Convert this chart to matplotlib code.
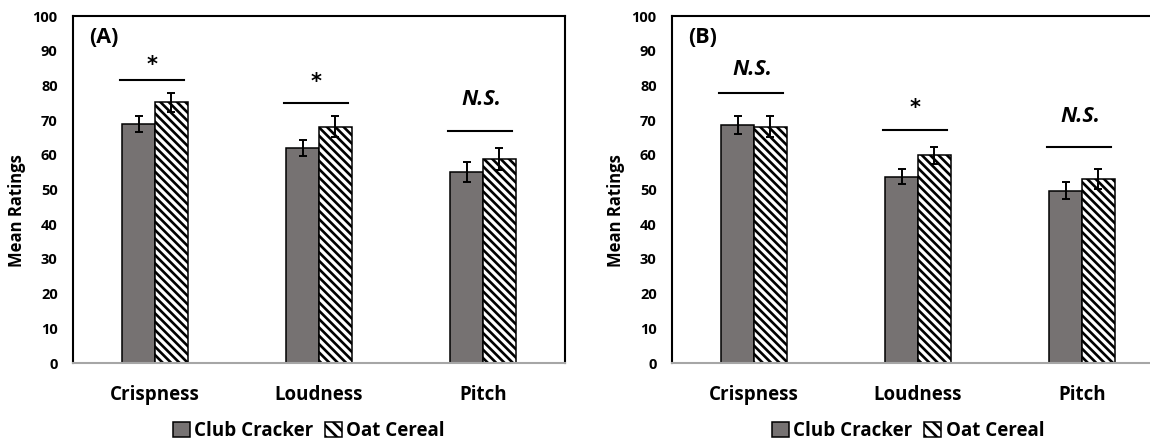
import numpy as np
import matplotlib.pyplot as plt
from matplotlib.patches import Patch

plt.rcParams['font.family'] = ['Open Sans', 'DejaVu Sans']
plt.rcParams['font.weight'] = 'bold'
plt.rcParams['hatch.linewidth'] = 1.9

# Dados
atributos = ['Crispness', 'Loudness', 'Pitch']
series = ['Club Cracker', 'Oat Cereal']

club_a = [69, 62, 55]
club_a_err = [2.3, 2.4, 2.8]
oat_a = [75.1, 68.1, 58.8]
oat_a_err = [2.8, 3.0, 3.3]
sig_a = ['*', '*', 'N.S.']
linha_a = [81.5, 75, 67]
texto_a = [86, 81, 76]

club_b = [68.6, 53.7, 49.7]
club_b_err = [2.5, 2.2, 2.5]
oat_b = [68.1, 59.8, 52.9]
oat_b_err = [3.0, 2.4, 2.9]
sig_b = ['N.S.', '*', 'N.S.']
linha_b = [77.9, 67.1, 62.2]
texto_b = [84.5, 73.5, 71]

cinza = '#767272'
largura = 0.2


def painel(ax, letra, club, club_err, oat, oat_err, sig, linha, texto):
    x = np.arange(len(atributos))
    ax.bar(x - largura / 2, club, largura, color=cinza, edgecolor='black',
           linewidth=1.1, zorder=2)
    ax.bar(x + largura / 2, oat, largura, color='white', edgecolor='black',
           hatch='\\\\\\\\', linewidth=1.1, zorder=2)
    ax.errorbar(x - largura / 2, club, yerr=club_err, fmt='none', ecolor='black',
                elinewidth=1.4, capsize=3, capthick=1.4, zorder=3)
    ax.errorbar(x + largura / 2, oat, yerr=oat_err, fmt='none', ecolor='black',
                elinewidth=1.4, capsize=3, capthick=1.4, zorder=3)

    # linhas e marcas de significancia
    for i in range(len(atributos)):
        ax.plot([x[i] - 0.215, x[i] + 0.175], [linha[i], linha[i]],
                color='black', linewidth=1.5)
        if sig[i] == '*':
            ax.text(x[i] - 0.015, texto[i], '*', ha='center', va='center',
                    fontsize=15, fontweight='bold', family='DejaVu Sans')
        else:
            ax.text(x[i] - 0.01, texto[i], sig[i], ha='center', va='center',
                    fontsize=15.5, fontweight='bold', fontstyle='italic')

    ax.set_xlim(-0.5, 2.5)
    ax.set_ylim(0, 100)
    ax.set_yticks(np.arange(0, 101, 10))
    ax.set_xticks(x)
    ax.set_xticklabels(atributos, fontsize=13.5, fontweight='bold')
    ax.tick_params(axis='y', length=0, pad=11, labelsize=10.5)
    ax.tick_params(axis='x', length=0, pad=16)
    ax.set_ylabel('Mean Ratings', fontsize=12, fontweight='bold')
    ax.yaxis.set_label_coords(-0.096, 0.44)
    for lado in ['top', 'left', 'right']:
        ax.spines[lado].set_linewidth(1.5)
        ax.spines[lado].set_color('black')
    ax.spines['bottom'].set_color('#a6a6a6')
    ax.spines['bottom'].set_linewidth(1.5)
    ax.text(0.033, 0.937, letra, transform=ax.transAxes, ha='left', va='center',
            fontsize=15.5, fontweight='bold')


fig = plt.figure(figsize=(11.5, 4.44), dpi=100)
ax1 = fig.add_axes([73 / 1150, 81 / 444, 492 / 1150, 347 / 444])
ax2 = fig.add_axes([672 / 1150, 81 / 444, 492 / 1150, 347 / 444])

painel(ax1, '(A)', club_a, club_a_err, oat_a, oat_a_err, sig_a, linha_a, texto_a)
painel(ax2, '(B)', club_b, club_b_err, oat_b, oat_b_err, sig_b, linha_b, texto_b)

handles = [Patch(facecolor=cinza, edgecolor='black', linewidth=1.1),
           Patch(facecolor='white', edgecolor='black', hatch='\\\\\\', linewidth=1.1)]
for cx in [309 / 1150, 908 / 1150]:
    fig.legend(handles, series, loc='center', bbox_to_anchor=(cx, 13 / 444),
               ncol=2, frameon=False, handlelength=0.9, handleheight=0.9,
               handletextpad=0.25, columnspacing=0.6,
               prop={'size': 13.5, 'weight': 'bold'})

fig.savefig('out.png', dpi=100)
